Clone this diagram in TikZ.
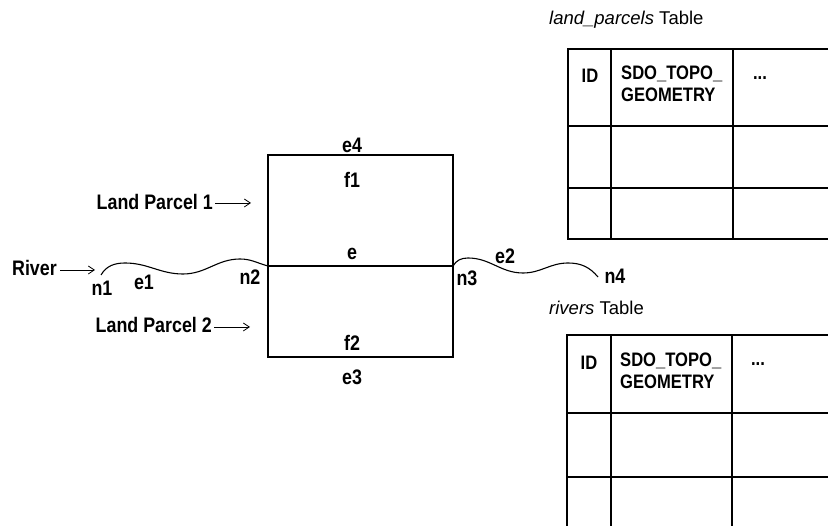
\documentclass[tikz,border=0pt]{standalone}
\usepackage{fontspec}
\setmainfont{Liberation Sans}[FakeStretch=0.85]
\newfontfamily\titlefont{Liberation Sans}
\usetikzlibrary{arrows.meta}
\begin{document}
\begin{tikzpicture}[
  x=1pt, y=-1pt,
  every node/.style={font=\fontsize{21}{24}\selectfont\bfseries, inner sep=1pt},
  cell/.style={font=\fontsize{19.5}{22}\selectfont\bfseries},
  ptr/.style={-{Straight Barb[length=6pt,width=8pt]}, line width=0.8pt},
  line/.style={line width=1.1pt},
  title/.style={anchor=west, font=\titlefont\fontsize{18.5}{22}\selectfont}
]
\clip (0,0) rectangle (828,526);
% parcels and shared edge
\draw[line] (268,155) rectangle (453,357);
\coordinate (n2p) at (268,266);
\coordinate (n3p) at (453,266);
\coordinate (n1p) at (101,275);
\coordinate (n4p) at (598,277);
\draw[line] (n2p) -- (n3p);
% river
\draw[line] (n1p) to[out=60,in=180] (125,263) to[out=0,in=180] (183,274)
  to[out=0,in=180] (240,259) to[out=0,in=165] (n2p);
\draw[line] (n3p) to[out=60,in=180] (468,258) to[out=0,in=180] (523,273)
  to[out=0,in=180] (568,263) to[out=0,in=130] (n4p);
% labels
\node (e4) at (352,145) {e4};
\node (f1) at (352,180) {f1};
\node (e) at (352,254) {e};
\node (f2) at (352,343) {f2};
\node (e3) at (352,377) {e3};
\node (n1) at (102,288) {n1};
\node (e1) at (144,282) {e1};
\node (n2) at (250,277) {n2};
\node (n3) at (467,278) {n3};
\node (e2) at (505,256) {e2};
\node (n4) at (615,276) {n4};
\node[anchor=east] (lp1) at (214,202) {Land Parcel 1};
\node[anchor=east] (lp2) at (213,325) {Land Parcel 2};
\node[anchor=east] (riv) at (58,268) {River};
\coordinate (lp1tip) at (251,203);
\coordinate (lp2tip) at (250,327);
\coordinate (rivtip) at (95,270);
\draw[ptr] (lp1.east) ++(1,1) -- (lp1tip);
\draw[ptr] (lp2.east) ++(1,2) -- (lp2tip);
\draw[ptr] (riv.east) ++(2,2) -- (rivtip);
% land_parcels table
\node[title] (lptab) at (548,20) {\textit{land\_parcels} Table};
\draw[line] (568,49) rectangle (840,239);
\foreach \y in {126,188} \draw[line] (568,\y) -- (840,\y);
\foreach \x in {611,733} \draw[line] (\x,49) -- (\x,239);
\node[cell] (lpid) at (590,76) {ID};
\node[cell, anchor=north west, align=left] (lpgeom) at (620,65) {SDO\_TOPO\_\\GEOMETRY};
\node[cell] (lpdots) at (760,78) {...};
% rivers table
\node[title] (rvtab) at (548,308) {\textit{rivers} Table};
\draw[line] (567,335) rectangle (840,540);
\foreach \y in {413,477} \draw[line] (567,\y) -- (840,\y);
\foreach \x in {611,732} \draw[line] (\x,335) -- (\x,540);
\node[cell] (rvid) at (589,363) {ID};
\node[cell, anchor=north west, align=left] (rvgeom) at (619,352) {SDO\_TOPO\_\\GEOMETRY};
\node[cell] (rvdots) at (758,364) {...};
\end{tikzpicture}
\end{document}
